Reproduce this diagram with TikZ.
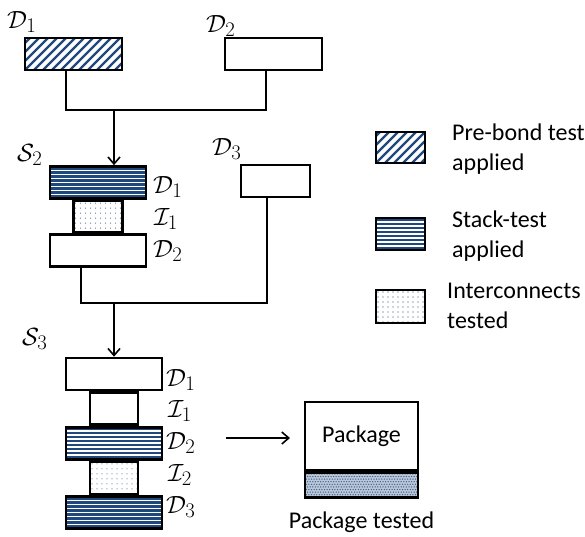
\documentclass[tikz,border=0pt]{standalone}
\usepackage{fontspec}
\setmainfont{Carlito}
\usetikzlibrary{arrows.meta}
\definecolor{tblue}{RGB}{31,73,125}
\tikzset{
  box/.style={draw, line width=2.6pt, inner sep=0pt},
  die/.style={box, minimum width=96pt, minimum height=32pt},
  icn/.style={box, minimum width=48pt, minimum height=32pt},
  leg/.style={box, minimum width=49pt, minimum height=31pt},
  prebond/.style={path picture={
      \foreach \i in {-8,...,20}
        \draw[tblue, line width=2.3pt] ([xshift=\i*9pt]path picture bounding box.south west) -- ++(60pt,60pt);}},
  stacked/.style={path picture={
      \foreach \i in {0,...,9}
        \draw[tblue, line width=2.3pt] ([yshift=-\i*4pt-2pt]path picture bounding box.north west) -- ++(200pt,0pt);}},
  intc/.style={path picture={
      \foreach \i in {0,...,20}
        \foreach \j in {0,...,7}
          \fill[tblue] ([shift={(\i*5pt+2pt,-\j*5pt-2pt)}]path picture bounding box.north west) circle (0.55pt);}},
  pkgdots/.style={fill=tblue!30, path picture={
      \foreach \j [evaluate=\j as \off using {mod(\j,2)*1.3}] in {0,...,10}
        \foreach \i in {0,...,45}
          \fill[tblue!85] ([shift={(\i*2.6pt+1.3pt+\off pt,-\j*2.6pt-1.3pt)}]path picture bounding box.north west) circle (0.75pt);}},
  lab/.style={inner sep=0pt, anchor=base west, font=\fontsize{29}{32}\selectfont},
  txt/.style={inner sep=0pt, font=\fontsize{24}{30}\selectfont, align=left},
  wire/.style={line width=2.6pt},
  arr/.style={line width=1.6pt, -{Straight Barb[length=7pt,width=12pt,line width=1.6pt]}}
}
\begin{document}
\begin{tikzpicture}[x=1pt,y=-1pt]
\fill[white] (0,0) rectangle (585,536);
\useasboundingbox (0,0) rectangle (585,536);

% top dies
\node[die, prebond, minimum width=97pt] (td1) at (73.5,54) {};
\node[die, minimum width=97pt] (td2) at (273.5,54) {};
\node[lab] (ltd1) at (7,28) {$\mathcal{D}_1$};
\node[lab] (ltd2) at (206,32) {$\mathcal{D}_2$};
\coordinate (j1) at (114,110);
\draw[wire] ([xshift=-7.5pt]td1.south) |- (j1) -| ([xshift=-7.5pt]td2.south);

% stack S2
\node[die, stacked] (s2d1) at (98,182.5) {};
\node[icn, intc, minimum width=49pt, minimum height=31pt, anchor=north] (s2i1) at (s2d1.south) {};
\node[die, anchor=north] (s2d2) at (s2i1.south) {};
\node[lab] (ls2) at (17,161) {$\mathcal{S}_2$};
\node[lab] (ls2d1) at (153,193) {$\mathcal{D}_1$};
\node[lab] (ls2i1) at (154,225) {$\mathcal{I}_1$};
\node[lab] (ls2d2) at (153,257) {$\mathcal{D}_2$};
\draw[arr] (j1) -- (j1 |- s2d1.north);

% D3
\node[die, minimum width=69pt] (td3) at (275.5,181) {};
\node[lab] (ltd3) at (212,155) {$\mathcal{D}_3$};
\coordinate (j2) at (114,303);
\draw[wire] ([xshift=-17pt]s2d2.south) |- (j2) -| ([xshift=-8.5pt]td3.south);

% stack S3
\node[die] (s3d1) at (114,374) {};
\node[icn, anchor=north] (s3i1) at (s3d1.south) {};
\node[die, stacked, anchor=north] (s3d2) at (s3i1.south) {};
\node[icn, intc, anchor=north] (s3i2) at (s3d2.south) {};
\node[die, stacked, anchor=north] (s3d3) at (s3i2.south) {};
\node[lab] (ls3) at (22,345) {$\mathcal{S}_3$};
\node[lab] (ls3d1) at (166,386) {$\mathcal{D}_1$};
\node[lab] (ls3i1) at (168,417) {$\mathcal{I}_1$};
\node[lab] (ls3d2) at (166,449) {$\mathcal{D}_2$};
\node[lab] (ls3i2) at (168,481) {$\mathcal{I}_2$};
\node[lab] (ls3d3) at (166,513) {$\mathcal{D}_3$};
\draw[arr] (j2) -- (j2 |- s3d1.north);

% package
\node[box, minimum width=113pt, minimum height=68pt, font=\fontsize{24}{30}\selectfont] (pkg) at (361.5,436) {Package};
\node[box, pkgdots, minimum width=113pt, minimum height=25pt, anchor=north] (pkgb) at (pkg.south) {};
\node[txt] (pkgl) at (361.5,522) {Package tested};
\coordinate (a1) at (226,438);
\coordinate (a2) at (290,438);
\draw[arr] (a1) -- (a2);

% legend
\node[leg, prebond] (lg1) at (400.5,147.5) {};
\node[txt, anchor=west] (lt1) at (452,149) {Pre-bond test\\applied};
\node[leg, stacked, minimum height=32pt] (lg2) at (400.5,234) {};
\node[txt, anchor=west] (lt2) at (452,236) {Stack-test\\applied};
\node[leg, intc, minimum height=33pt] (lg3) at (400.5,306.5) {};
\node[txt, anchor=west] (lt3) at (447,306) {Interconnects\\tested};
\end{tikzpicture}
\end{document}
